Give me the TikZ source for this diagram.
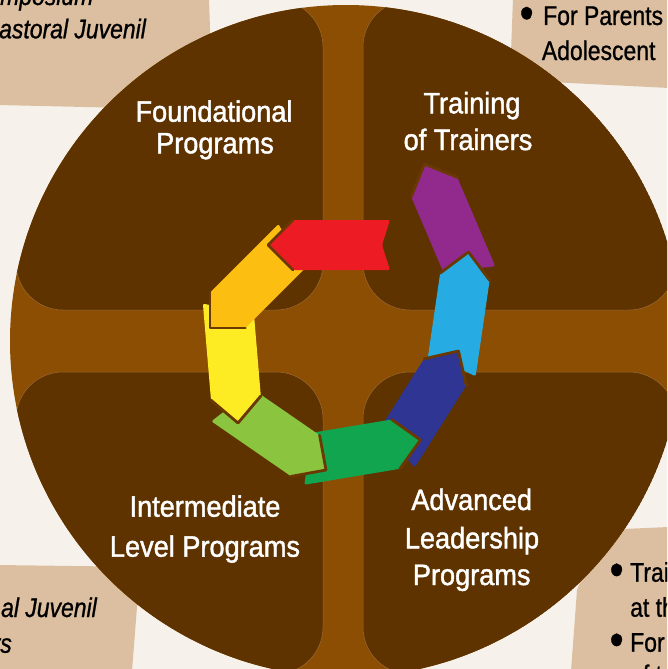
\documentclass[tikz,border=0pt]{standalone}
\usepackage{fontspec}
\newfontfamily\titlefont{Liberation Sans}[FakeStretch=0.92, FakeBold=1.4]
\newfontfamily\notefont{Liberation Sans}[FakeStretch=0.85, FakeBold=0.9]
\definecolor{bgcream}{HTML}{F6F2EB}
\definecolor{tanbox}{HTML}{DCBEA0}
\definecolor{darkq}{HTML}{5E3300}
\definecolor{crossc}{HTML}{8B4E02}
\definecolor{edgeq}{HTML}{9C6A35}
\definecolor{outl}{HTML}{6A3802}
\definecolor{cRed}{HTML}{ED1C24}
\definecolor{cOrange}{HTML}{FDBE12}
\definecolor{cYellow}{HTML}{FDEB24}
\definecolor{cLGreen}{HTML}{8BC43F}
\definecolor{cGreen}{HTML}{12A54F}
\definecolor{cDBlue}{HTML}{2E3592}
\definecolor{cLBlue}{HTML}{26ACE2}
\definecolor{cPurple}{HTML}{922A8E}
\newcommand{\ringarrow}[4]{%
  \begin{scope}[shift={(#2,#3)}, rotate=#4]
    \fill[#1, rounded corners=2pt] (0,0) -- (-25,25) -- (-122,25) -- (-114,0) -- (-122,-25) -- (-25,-25) -- cycle;
    \draw[outl, line width=2.8pt, line join=round, line cap=round] (-25,25) -- (0,0) -- (-25,-25);
  \end{scope}}
\tikzset{
  quad/.style={fill=darkq, draw=edgeq, line width=0.5pt, rounded corners=47pt},
  title/.style={text=white, inner sep=0pt, anchor=base, font=\titlefont\fontsize{29.5}{35}\selectfont},
  note/.style={text=black, inner sep=0pt, anchor=base west, font=\notefont\fontsize{27}{32}\selectfont},
  noteit/.style={note, font=\notefont\itshape\fontsize{27}{32}\selectfont},
  bul/.style={text=black, inner sep=0pt, anchor=base, font=\notefont\fontsize{46}{46}\selectfont}
}
\begin{document}
\begin{tikzpicture}[x=1pt, y=-1pt]
\useasboundingbox (0,0) rectangle (667,669);
\clip (0,0) rectangle (667,669);
\fill[bgcream] (-2,-2) rectangle (669,671);
% tan boxes
\fill[tanbox] (-2,-2) -- (209,-2) -- (211,60) -- (215,110) -- (-2,105) -- cycle;
\fill[tanbox] (513,-2) -- (669,-2) -- (669,88) -- (510,80) -- cycle;
\fill[tanbox] (-2,565) -- (150,567) -- (137,607) -- (132,671) -- (-2,671) -- cycle;
\fill[tanbox] (600,530) -- (669,527) -- (669,671) -- (571,671) -- (577,590) -- cycle;
% corner texts
\node[noteit] (tl1) at (0,5) {mposium};
\node[noteit] (tl2) at (-1,38.3) {astoral Juvenil};
\node[bul] (trb) at (526.7,28.4) {•};
\node[note] (tr1) at (543,25) {For Parents};
\node[note] (tr2) at (541.7,60) {Adolescent};
\node[noteit, anchor=base east] (bl1) at (97,617) {al Juvenil};
\node[noteit, anchor=base east] (bl2) at (12,652.7) {rs};
\node[bul] (brb1) at (616.7,585.1) {•};
\node[note] (br1) at (630,581.7) {Trai};
\node[note] (br2) at (630,616.7) {at th};
\node[bul] (brb2) at (616.7,655.1) {•};
\node[note] (br3) at (630,651.7) {For};
\node[note] (br4) at (630,684) {of t};
% big circle with cross
\begin{scope}
  \clip (346,341) circle[radius=336pt];
  \fill[crossc] (346,341) circle[radius=336pt];
  \path[quad] (16,0) rectangle (323,310);
  \path[quad] (363,0) rectangle (676,310);
  \path[quad] (16,372) rectangle (323,674);
  \path[quad] (363,372) rectangle (676,674);
\end{scope}
% ring of arrows
\ringarrow{cPurple}{424.4}{164}{113.1}
\ringarrow{cLBlue}{468.5}{252}{81.7}
\ringarrow{cDBlue}{458.5}{351}{57.8}
\ringarrow{cGreen}{420.5}{440}{9.5}
\ringarrow{cLGreen}{326}{470}{-34.6}
\ringarrow{cYellow}{238}{423}{-85.2}
\ringarrow{cOrange}{210}{328}{-135}
\ringarrow{cRed}{268}{245}{-180}
% titles
\node[title] (t1a) at (214,121.7) {Foundational};
\node[title] (t1b) at (215,153.3) {Programs};
\node[title] (t2a) at (472,113.3) {Training};
\node[title] (t2b) at (468,150) {of Trainers};
\node[title] (t3a) at (205,516.7) {Intermediate};
\node[title] (t3b) at (205,556.7) {Level Programs};
\node[title] (t4a) at (471.7,510) {Advanced};
\node[title] (t4b) at (472,548.3) {Leadership};
\node[title] (t4c) at (471.7,585) {Programs};
\end{tikzpicture}
\end{document}
